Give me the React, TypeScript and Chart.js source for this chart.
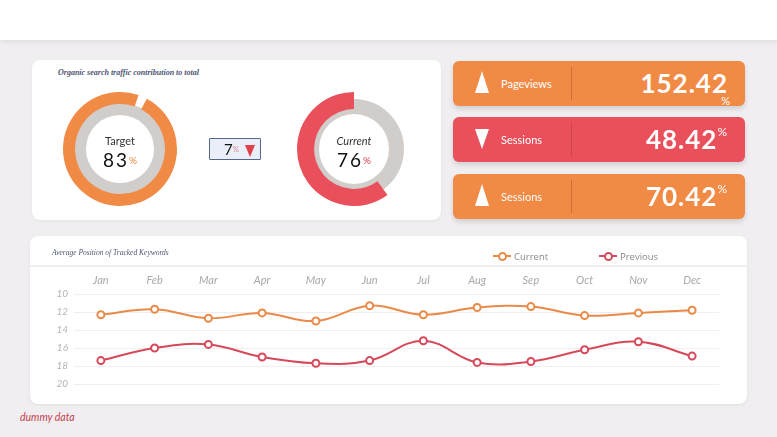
import React, { useEffect, useRef } from "react";
import { Chart, registerables } from "chart.js";

Chart.register(...registerables);

// ---------- data ----------
const MONTHS = ["Jan", "Feb", "Mar", "Apr", "May", "Jun", "Jul", "Aug", "Sep", "Oct", "Nov", "Dec"];
const CURRENT = [12.3, 11.7, 12.7, 12.1, 13.0, 11.3, 12.3, 11.5, 11.4, 12.4, 12.1, 11.8];
const PREVIOUS = [17.4, 16.0, 15.6, 17.0, 17.7, 17.4, 15.2, 17.6, 17.5, 16.2, 15.3, 16.9];
const Y_TICKS = [10, 12, 14, 16, 18, 20];
const SERIES_NAMES = ["Current", "Previous"];

const TARGET_VALUE = "83";
const CURRENT_VALUE = "76";
const DIFF_VALUE = "7";
const TARGET_ARC = [97.5, 2.5];
const CURRENT_ARC = [60, 40];

const KPI_NAMES = ["Pageviews", "Sessions", "Sessions"];
const KPI_VALUES = ["152.42", "48.42", "70.42"];
const KPI_UP = [true, false, true];

// ---------- styles ----------
const ORANGE = "#f18a45";
const RED = "#e9505b";
const LINE_ORANGE = "#e98a48";
const LINE_RED = "#d6495a";
const GRAY_RING = "#d1cdcb";
const HAND = "'Lato', 'Open Sans', sans-serif";

function Doughnut(props: {
  left: number; top: number; size: number;
  ringRadius: number; ringCutout: string;
  arcColor: string; arcData: number[]; arcRotation: number;
  arcRadius: number; arcCutout: string;
  label: string; value: string; pctColor: string; italic: boolean;
}) {
  const ringRef = useRef<HTMLCanvasElement>(null);
  const arcRef = useRef<HTMLCanvasElement>(null);
  useEffect(() => {
    const common = {
      responsive: false,
      animation: false as const,
      events: [] as any[],
      plugins: { legend: { display: false }, tooltip: { enabled: false } },
    };
    const ring = new Chart(ringRef.current!, {
      type: "doughnut",
      data: { labels: ["ring"], datasets: [{ data: [100], backgroundColor: [GRAY_RING], borderWidth: 0 }] },
      options: { ...common, radius: props.ringRadius, cutout: props.ringCutout } as any,
    });
    const arc = new Chart(arcRef.current!, {
      type: "doughnut",
      data: {
        labels: ["value", "rest"],
        datasets: [{ data: props.arcData, backgroundColor: [props.arcColor, "rgba(0,0,0,0)"], borderWidth: 0 }],
      },
      options: { ...common, radius: props.arcRadius, cutout: props.arcCutout, rotation: props.arcRotation } as any,
    });
    return () => { ring.destroy(); arc.destroy(); };
  }, []);
  const s = props.size;
  return (
    <div style={{ position: "absolute", left: props.left, top: props.top, width: s, height: s }}>
      <canvas ref={ringRef} width={s} height={s} style={{ position: "absolute", left: 0, top: 0 }} />
      <canvas ref={arcRef} width={s} height={s} style={{ position: "absolute", left: 0, top: 0 }} />
      <div style={{ position: "absolute", left: 0, width: s, top: s / 2 - 15, textAlign: "center", fontFamily: HAND, fontSize: 11, color: "#333", fontStyle: props.italic ? "italic" : "normal" }}>{props.label}</div>
      <div style={{ position: "absolute", left: 0, width: s, top: s / 2 + 1, textAlign: "center", fontFamily: HAND, fontSize: 19, color: "#111", letterSpacing: 2, lineHeight: "20px" }}>
        {props.value}
        <span style={{ fontSize: 10, color: props.pctColor, verticalAlign: "top", letterSpacing: 0 }}>%</span>
      </div>
    </div>
  );
}

function LineChart() {
  const ref = useRef<HTMLCanvasElement>(null);
  useEffect(() => {
    const chart = new Chart(ref.current!, {
      type: "line",
      data: {
        labels: MONTHS,
        datasets: [
          {
            label: SERIES_NAMES[0], data: CURRENT, borderColor: LINE_ORANGE, backgroundColor: "#fff",
            borderWidth: 2, pointRadius: 3.5, pointBorderWidth: 2, pointBackgroundColor: "#fff",
            pointBorderColor: LINE_ORANGE, tension: 0.4, fill: false,
          },
          {
            label: SERIES_NAMES[1], data: PREVIOUS, borderColor: LINE_RED, backgroundColor: "#fff",
            borderWidth: 2, pointRadius: 3.5, pointBorderWidth: 2, pointBackgroundColor: "#fff",
            pointBorderColor: LINE_RED, tension: 0.4, fill: false,
          },
        ],
      },
      options: {
        responsive: false,
        animation: false,
        events: [],
        layout: { padding: { top: 30, left: 0, right: 28, bottom: 20 } },
        plugins: { legend: { display: false }, tooltip: { enabled: false } },
        scales: {
          x: {
            type: "category",
            position: "top",
            offset: true,
            grid: { display: false, drawTicks: false },
            border: { display: false },
            ticks: { color: "#a8a8a8", font: { family: HAND, size: 11, style: "italic" }, padding: 7 },
            afterFit: (s: any) => { s.height = 28; },
          },
          y: {
            reverse: true,
            min: 10,
            max: 20,
            afterBuildTicks: (s: any) => { s.ticks = Y_TICKS.map((v) => ({ value: v })); },
            ticks: { color: "#b4b4b4", font: { family: HAND, size: 10, style: "italic" }, padding: 6 },
            grid: { color: "#f0eeee", drawTicks: false, lineWidth: 1 },
            border: { display: false },
            afterFit: (s: any) => { s.width = 44; },
          },
        },
      } as any,
    });
    return () => chart.destroy();
  }, []);
  return <canvas ref={ref} width={717} height={168} style={{ position: "absolute", left: 0, top: 0 }} />;
}

function LegendItem({ left, color, text }: { left: number; color: string; text: string }) {
  return (
    <div style={{ position: "absolute", left, top: 13, height: 14, display: "flex", alignItems: "center" }}>
      <div style={{ position: "relative", width: 18, height: 10 }}>
        <div style={{ position: "absolute", left: 0, top: 4, width: 18, height: 2, background: color }} />
        <div style={{ position: "absolute", left: 5, top: 1, width: 5, height: 5, borderRadius: "50%", border: `2px solid ${color}`, background: "#fff" }} />
      </div>
      <span style={{ marginLeft: 3, fontFamily: "'Open Sans', sans-serif", fontSize: 9.5, color: "#8a8a8a" }}>{text}</span>
    </div>
  );
}

function KpiCard({ top, color, up, name, value, pctBelow }: { top: number; color: string; up: boolean; name: string; value: string; pctBelow: boolean }) {
  const tri = up
    ? { borderLeft: "7.5px solid transparent", borderRight: "7.5px solid transparent", borderBottom: "22px solid #fff" }
    : { borderLeft: "7px solid transparent", borderRight: "7px solid transparent", borderTop: "20px solid #fff" };
  return (
    <div style={{ position: "absolute", left: 453, top, width: 292, height: 45, background: color, borderRadius: 6, boxShadow: "0 3px 5px rgba(0,0,0,0.13)" }}>
      <div style={{ position: "absolute", left: 22, top: up ? 10 : 12, width: 0, height: 0, ...tri }} />
      <div style={{ position: "absolute", left: 48, top: 0, height: 45, lineHeight: "45px", fontFamily: HAND, fontSize: 11, color: "#fff" }}>{name}</div>
      <div style={{ position: "absolute", left: 118, top: 6, width: 1, height: 33, background: "rgba(150,50,30,0.35)" }} />
      <div style={{ position: "absolute", right: 17, top: 6, fontFamily: HAND, fontWeight: 700, fontSize: 26, color: "#fff", letterSpacing: 1, whiteSpace: "nowrap", lineHeight: "32px" }}>
        {value}
        {!pctBelow && <span style={{ fontSize: 12, verticalAlign: "top", lineHeight: "18px", fontWeight: 400 }}>%</span>}
      </div>
      {pctBelow && <div style={{ position: "absolute", right: 15, top: 33, fontFamily: HAND, fontSize: 11, color: "#fff" }}>%</div>}
    </div>
  );
}

export default function App() {
  return (
    <div style={{ position: "fixed", left: 0, top: 0, width: 777, height: 437, background: "#f0eef0", overflow: "hidden" }}>
      {/* top band */}
      <div style={{ position: "absolute", left: 0, top: 0, width: 777, height: 40, background: "#fff", boxShadow: "0 2px 5px rgba(0,0,0,0.07)" }} />

      {/* left card */}
      <div style={{ position: "absolute", left: 32, top: 60, width: 409, height: 160, background: "#fff", borderRadius: 8, boxShadow: "0 1px 3px rgba(0,0,0,0.06)" }}>
        <div style={{ position: "absolute", left: 26, top: 8, fontFamily: "'Liberation Serif', serif", fontStyle: "italic", fontWeight: 700, fontSize: 8, color: "#4c5672" }}>
          Organic search traffic contribution to total
        </div>
      </div>
      <Doughnut left={55} top={84} size={130} ringRadius={46} ringCutout="74%" arcColor={ORANGE} arcData={TARGET_ARC} arcRotation={28} arcRadius={57} arcCutout="79%" label="Target" value={TARGET_VALUE} pctColor="#e8873f" italic={false} />
      <Doughnut left={289} top={84} size={130} ringRadius={50} ringCutout="70%" arcColor={RED} arcData={CURRENT_ARC} arcRotation={144} arcRadius={57} arcCutout="70%" label="Current" value={CURRENT_VALUE} pctColor="#e0404c" italic={true} />

      {/* diff box */}
      <div style={{ position: "absolute", left: 209, top: 138, width: 50, height: 20, background: "#e9eef8", border: "1.5px solid #55678a", borderRadius: 1 }}>
        <div style={{ position: "absolute", left: 14, top: 1, fontFamily: HAND, fontSize: 15, color: "#111", lineHeight: "18px" }}>
          {DIFF_VALUE}
          <span style={{ fontSize: 8, color: "#e48a94", verticalAlign: "top" }}>%</span>
        </div>
        <div style={{ position: "absolute", left: 35, top: 6, width: 0, height: 0, borderLeft: "5px solid transparent", borderRight: "5px solid transparent", borderTop: "12px solid #e2404c" }} />
      </div>

      {/* KPI cards */}
      {KPI_NAMES.map((n, i) => (
        <KpiCard key={i} top={[61, 117, 174][i]} color={KPI_UP[i] ? ORANGE : RED} up={KPI_UP[i]} name={n} value={KPI_VALUES[i]} pctBelow={i === 0} />
      ))}

      {/* line chart card */}
      <div style={{ position: "absolute", left: 30, top: 236, width: 717, height: 168, background: "#fff", borderRadius: 8, boxShadow: "0 1px 3px rgba(0,0,0,0.07)" }}>
        <div style={{ position: "absolute", left: 0, top: 29, width: 717, height: 2, background: "#efefef" }} />
        <div style={{ position: "absolute", left: 22, top: 12, fontFamily: "'Liberation Serif', serif", fontStyle: "italic", fontSize: 7.5, color: "#4c5672" }}>
          Average Position of Tracked Keywords
        </div>
        <LegendItem left={463} color={LINE_ORANGE} text={SERIES_NAMES[0]} />
        <LegendItem left={569} color={LINE_RED} text={SERIES_NAMES[1]} />
        <LineChart />
      </div>

      <div style={{ position: "absolute", left: 20, top: 411, fontFamily: HAND, fontStyle: "italic", fontSize: 10.5, color: "#c2424e" }}>dummy data</div>
    </div>
  );
}
